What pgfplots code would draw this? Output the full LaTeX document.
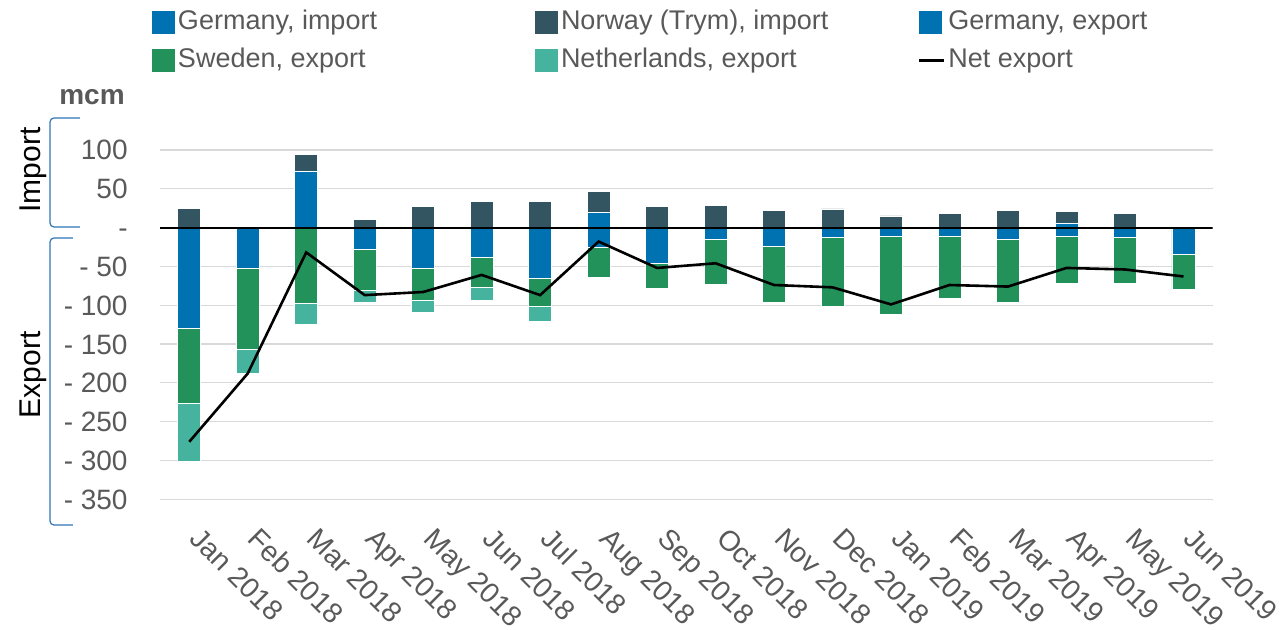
\documentclass[border=0pt]{standalone}
\usepackage{fontspec}
\setmainfont{Liberation Sans}
\usepackage{pgfplots}
\pgfplotsset{compat=1.18}
\usepackage{pgfplotstable}
\definecolor{deblue}{HTML}{0072B2}
\definecolor{nodark}{HTML}{335561}
\definecolor{segreen}{HTML}{22925A}
\definecolor{nlteal}{HTML}{45B39D}
\definecolor{txtgray}{HTML}{595959}
\definecolor{gridgray}{HTML}{D9D9D9}
\definecolor{brblue}{HTML}{2E75B6}

\pgfplotstableread{
x gimp nimp gexp sexp nexp net
0 0 25 -130 -96 -75 -276
1 0 0 -52 -105 -31 -188
2 73 21 0 -98 -27 -32
3 0 10 -28 -53 -16 -87
4 0 27 -52 -42 -15 -83
5 0 34 -38 -39 -17 -61
6 0 34 -66 -36 -19 -87
7 19 28 -25 -39 0 -18
8 0 27 -46 -33 0 -52
9 0 28 -15 -58 0 -46
10 0 22 -24 -72 0 -74
11 0 24 -13 -88 0 -77
12 0 15 -12 -100 0 -99
13 0 18 -12 -79 0 -74
14 0 22 -15 -81 0 -76
15 6 15 -12 -60 0 -52
16 0 18 -13 -59 0 -54
17 0 0 -35 -45 0 -63
}\data

\pgfplotsset{
  common/.style={
    scale only axis, width=526.35pt, height=184.35pt,
    xmin=-0.5, xmax=17.5, ymin=-365, ymax=110,
  },
  hidden/.style={common, hide axis},
  sq/.style={legend image code/.code={\fill[##1,draw=none] (0pt,-5.75pt) rectangle (11.5pt,5.75pt);}},
  lineleg/.style={legend image code/.code={\draw[##1] (0pt,0pt) -- (12.5pt,0pt);}},
  barsty/.style={draw=white, line width=0.4pt},
}

\begin{document}
\begin{tikzpicture}
\useasboundingbox (-80pt,-59.55pt) rectangle (561.5pt,255.45pt);

% main axis: grid, ticks, legend, export bars
\begin{axis}[common,
  ybar stacked, bar width=11.5pt,
  axis line style={draw=none}, tick style={draw=none},
  ymajorgrids, grid style={gridgray, line width=0.6pt},
  ytick={-350,-300,...,100},
  yticklabels={- 350,- 300,- 250,- 200,- 150,- 100,- 50,-,50,100},
  xtick={0,...,17},
  xticklabels={Jan 2018,Feb 2018,Mar 2018,Apr 2018,May 2018,Jun 2018,Jul 2018,Aug 2018,Sep 2018,Oct 2018,Nov 2018,Dec 2018,Jan 2019,Feb 2019,Mar 2019,Apr 2019,May 2019,Jun 2019},
  tick label style={text=txtgray},
  yticklabel style={font=\fontsize{14}{16}\selectfont, inner sep=0pt, xshift=-16pt, text height=10pt, text depth=0pt},
  xticklabel style={font=\fontsize{14.2}{17}\selectfont, rotate=-45, anchor=north west, inner sep=0pt, xshift=10pt, yshift=-0.5pt},
  /pgf/number format/assume math mode=true,
  legend columns=3,
  legend cell align=left,
  legend style={
    at={(axis description cs:-0.0076,1.36)}, anchor=north west,
    draw=none, fill=none, inner sep=0pt, outer sep=0pt,
    font=\fontsize{13.5}{16}\selectfont, text=txtgray,
    column sep=0pt, row sep=6pt,
    /tikz/every odd column/.append style={column sep=1.5pt},
    nodes={inner sep=0pt, anchor=west, text height=10pt, text depth=3pt},
  },
]
\addlegendimage{sq, fill=deblue}
\addlegendentry{\makebox[178.5pt][l]{Germany, import}}
\addlegendimage{sq, fill=nodark}
\addlegendentry{\makebox[178.5pt][l]{Norway (Trym), import}}
\addplot[sq, barsty, fill=deblue] table[x=x, y=gexp]{\data};
\addlegendentry{Germany, export}
\addplot[sq, barsty, fill=segreen] table[x=x, y=sexp]{\data};
\addlegendentry{\makebox[178.5pt][l]{Sweden, export}}
\addplot[sq, barsty, fill=nlteal] table[x=x, y=nexp]{\data};
\addlegendentry{\makebox[178.5pt][l]{Netherlands, export}}
\addlegendimage{lineleg, black, line width=1.2pt}
\addlegendentry{Net export}
\end{axis}

% import bars
\begin{axis}[hidden, ybar stacked, bar width=11.5pt]
\addplot[barsty, fill=deblue] table[x=x, y=gimp]{\data};
\addplot[barsty, fill=nodark] table[x=x, y=nimp]{\data};
\end{axis}

% zero line and net export line
\begin{axis}[hidden]
\draw[black, line width=1pt] (axis cs:-0.5,0) -- (axis cs:17.5,0);
\addplot[black, line width=1.3pt, mark=none] table[x=x, y=net]{\data};
\end{axis}

% decorations
\draw[brblue, line width=0.6pt, rounded corners=2pt] (-40pt,196.45pt) -- (-55pt,196.45pt) -- (-55pt,141.95pt) -- (-40pt,141.95pt);
\draw[brblue, line width=0.6pt, rounded corners=2pt] (-43.5pt,136.45pt) -- (-55pt,136.45pt) -- (-55pt,-7.05pt) -- (-43.5pt,-7.05pt);
\node[rotate=90, font=\fontsize{15}{18}\selectfont] at (-63.5pt,170.45pt) {Import};
\node[rotate=90, font=\fontsize{15}{18}\selectfont] at (-63.5pt,67.95pt) {Export};
\node[font=\bfseries\fontsize{14}{16}\selectfont, text=txtgray] at (-34pt,206.95pt) {mcm};
\end{tikzpicture}
\end{document}
